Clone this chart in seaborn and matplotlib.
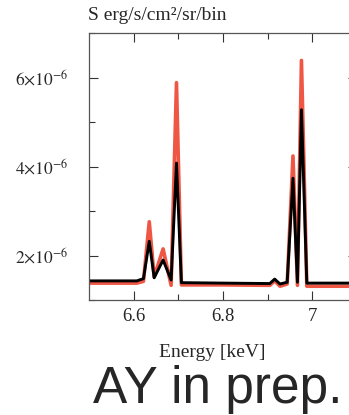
import matplotlib
matplotlib.use("Agg")
import matplotlib.pyplot as plt
import seaborn as sns
import pandas as pd
from matplotlib.ticker import MultipleLocator, FixedLocator

# spectrum (units of 1e-6 erg/s/cm2/sr/bin)
energy = [6.50, 6.607, 6.622, 6.635, 6.646, 6.666, 6.684, 6.696, 6.707, 6.80,
          6.905, 6.916, 6.928, 6.944, 6.957, 6.967, 6.976, 6.988, 7.10]
black_flux = [1.43, 1.43, 1.48, 2.32, 1.50, 1.90, 1.45, 4.08, 1.39, 1.38,
              1.37, 1.47, 1.36, 1.40, 3.74, 1.40, 5.28, 1.38, 1.38]
red_flux = [1.38, 1.38, 1.42, 2.76, 1.52, 2.15, 1.33, 5.89, 1.34, 1.34,
            1.33, 1.43, 1.31, 1.36, 4.24, 1.33, 6.39, 1.31, 1.31]

ytick_vals = [2e-6, 4e-6, 6e-6]
ytick_labels = [r"$2{\times}10^{-6}$", r"$4{\times}10^{-6}$", r"$6{\times}10^{-6}$"]
xtick_vals = [6.6, 6.8, 7.0]
xtick_labels = ["6.6", "6.8", "7"]

sns.set_style("ticks")
plt.rcParams["font.family"] = ["Liberation Serif", "DejaVu Serif"]
plt.rcParams["mathtext.fontset"] = "stix"

df = pd.DataFrame({"energy": energy,
                   "red": [v * 1e-6 for v in red_flux],
                   "black": [v * 1e-6 for v in black_flux]})

fig = plt.figure(figsize=(3.49, 4.15), dpi=100)
ax = fig.add_axes([89 / 349, 115 / 415, 267.8 / 349, 266.7 / 415])

sns.lineplot(data=df, x="energy", y="red", color="#ee4430", linewidth=2.6,
             ax=ax, alpha=0.9)
sns.lineplot(data=df, x="energy", y="black", color="black", linewidth=2.1, ax=ax)

ax.set_xlim(6.5, 7.1)
ax.set_ylim(1e-6, 7e-6)
ax.xaxis.set_major_locator(FixedLocator(xtick_vals))
ax.set_xticklabels(xtick_labels)
ax.xaxis.set_minor_locator(FixedLocator([6.7, 6.9, 7.1]))
ax.yaxis.set_major_locator(FixedLocator(ytick_vals))
ax.set_yticklabels(ytick_labels)
ax.yaxis.set_minor_locator(MultipleLocator(1e-6))

ax.tick_params(which="both", direction="in", top=True, right=True,
               color="#333333", width=0.8)
ax.tick_params(which="major", length=6.5)
ax.tick_params(which="minor", length=4)
ax.tick_params(axis="y", pad=15, labelsize=12.5)
ax.tick_params(axis="x", pad=6, labelsize=13.5)

for s in ax.spines.values():
    s.set_color("#555555")
    s.set_linewidth(0.9)

ax.set_ylabel("")
ax.set_xlabel("Energy [keV]", fontsize=14)
ax.xaxis.set_label_coords(0.46, -0.165)

fig.text(88 / 349, 1 - 15 / 415, "S erg/s/cm²/sr/bin", fontsize=14,
         ha="left", va="center")
fig.text(93 / 349, 1 - 403 / 415, "AY in prep.", fontsize=37,
         family="Liberation Sans", ha="left", va="baseline")

fig.savefig("out.png", dpi=100)
plt.close(fig)
